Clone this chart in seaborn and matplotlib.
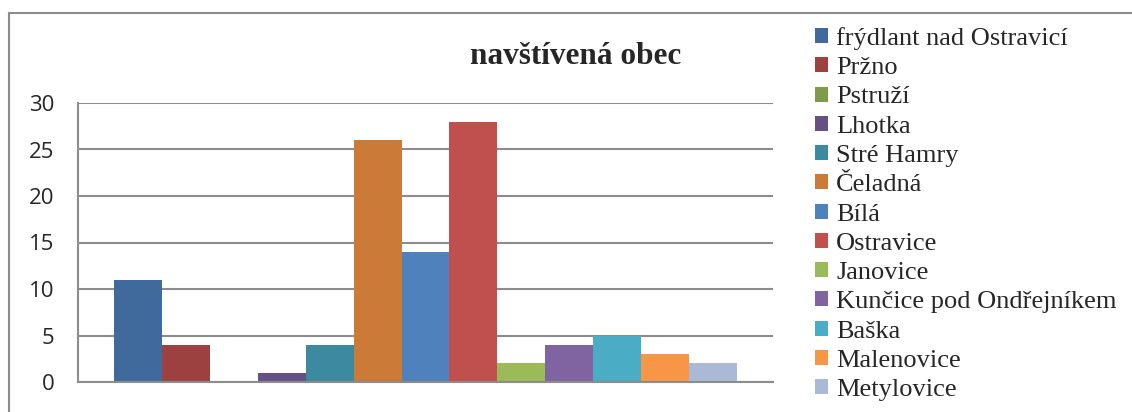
# navštívená obec - column chart, one category, one bar per village

import pandas as pd
import numpy as np
import matplotlib
matplotlib.use("Agg")
import matplotlib.pyplot as plt
import seaborn as sns
from matplotlib.lines import Line2D

# data
obce = ['frýdlant nad Ostravicí', 'Pržno', 'Pstruží', 'Lhotka', 'Stré Hamry',
        'Čeladná', 'Bílá', 'Ostravice', 'Janovice', 'Kunčice pod Ondřejníkem',
        'Baška', 'Malenovice', 'Metylovice']
pocty = [11, 4, 0, 1, 4, 26, 14, 28, 2, 4, 5, 3, 2]
barvy = ['#406A9C', '#9C413F', '#7F9A48', '#664F85', '#3C8AA0', '#CC7A38',
         '#4F81BD', '#C0504D', '#9BBB59', '#8064A2', '#4BACC6', '#F79646', '#A9B9D6']
y_ticks = [0, 5, 10, 15, 20, 25, 30]
title = 'navštívená obec'

df = pd.DataFrame({'kategorie': [''] * len(obce), 'obec': obce, 'pocet': pocty})

sns.set_style('white')
plt.rcParams['font.family'] = ['DejaVu Sans']

fig = plt.figure(figsize=(11.32, 4.12), dpi=100)
# plot area in pixels: x 78..773, y 103..382
ax = fig.add_axes([78 / 1132, 1 - 382 / 412, (773 - 78) / 1132, (382 - 103) / 412])

sns.barplot(data=df, x='kategorie', y='pocet', hue='obec', hue_order=obce,
            palette=barvy, width=1.0, linewidth=0, saturation=1,
            legend=True, ax=ax)

pad = 36 / 623
ax.set_xlim(-0.5 - pad, 0.5 + pad)
ax.set_ylim(0, 30)
ax.set_yticks(y_ticks)
ax.set_yticklabels([str(t) for t in y_ticks], fontsize=16,
                   family=['Open Sans', 'DejaVu Sans'])
ax.tick_params(axis='y', length=0, pad=17)
ax.tick_params(axis='x', length=0)
ax.set_xticklabels([])
ax.set_xlabel('')
ax.set_ylabel('')

ax.grid(axis='y', color='#8c8c8c', linewidth=1.5)
ax.set_axisbelow(True)
for s in ['top', 'right']:
    ax.spines[s].set_visible(False)
for s in ['left', 'bottom']:
    ax.spines[s].set_color('#8c8c8c')
    ax.spines[s].set_linewidth(1.5)

# legend on the right
handles, labels = ax.get_legend_handles_labels()
ax.legend_.remove()
fig.legend(handles, labels, loc='upper left', bbox_to_anchor=(815 / 1132, 1 - 27 / 412),
           frameon=False, prop={'family': ['Liberation Serif'], 'size': 19},
           handlelength=0.5, handleheight=0.5, handletextpad=0.3,
           labelspacing=0.275, borderaxespad=0, borderpad=0)

fig.text(576 / 1132, 1 - 56 / 412, title, ha='center', va='center',
         fontsize=22.5, fontweight='bold', family=['Liberation Serif'])

# outer chart border (left and top only visible)
fig.add_artist(Line2D([8.5 / 1132, 8.5 / 1132], [0, 1 - 12.5 / 412],
                      color='#8c8c8c', linewidth=1.5, transform=fig.transFigure))
fig.add_artist(Line2D([8.5 / 1132, 1], [1 - 12.5 / 412, 1 - 12.5 / 412],
                      color='#8c8c8c', linewidth=1.5, transform=fig.transFigure))

fig.savefig('out.png', dpi=100)
